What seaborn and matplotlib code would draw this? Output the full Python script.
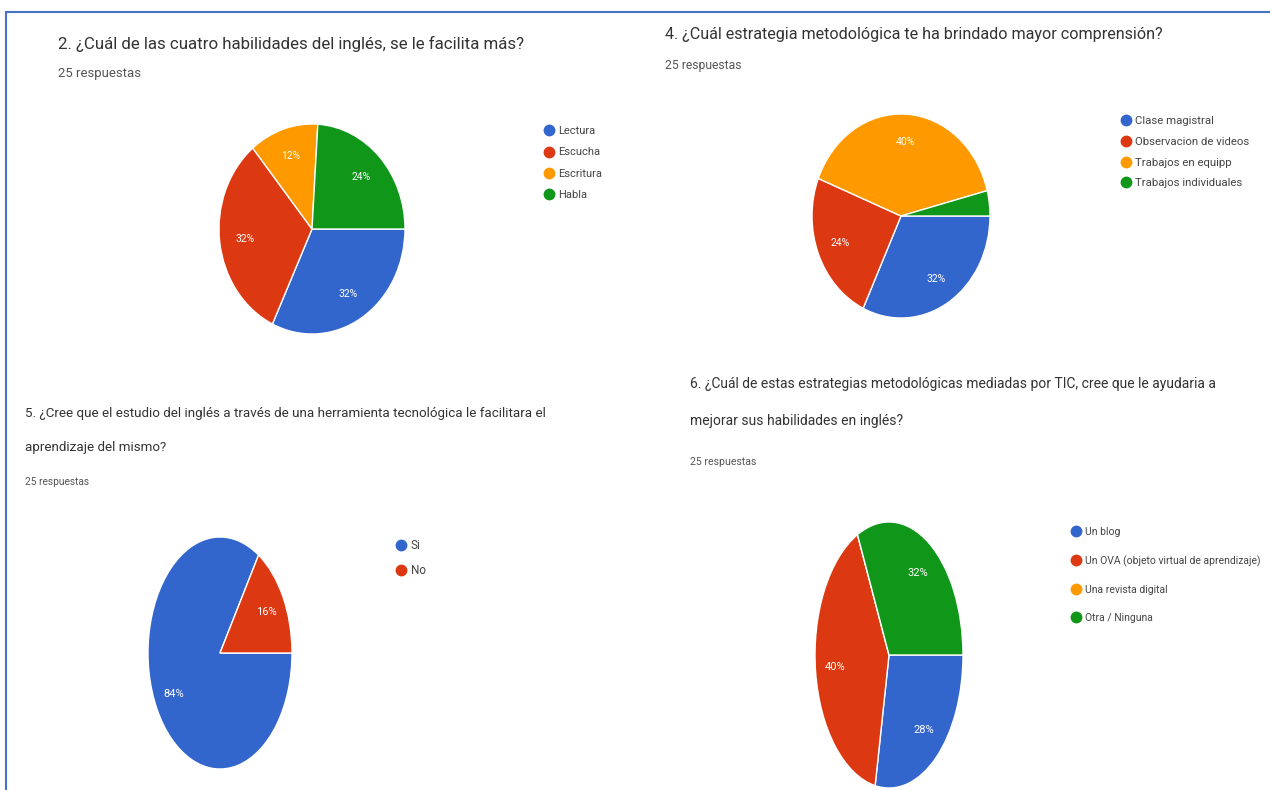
import matplotlib
matplotlib.use("Agg")
import matplotlib.pyplot as plt
from matplotlib import font_manager
from matplotlib.lines import Line2D
import seaborn as sns

sns.set_theme(style="white")

W, H = 1270, 790

# --- data ---
resp = "25 respuestas"

q2_title = ["2. ¿Cuál de las cuatro habilidades del inglés, se le facilita más?"]
q2_labels = ["Lectura", "Escucha", "Escritura", "Habla"]
q2_pct = [32, 32, 12, 24]

q4_title = ["4. ¿Cuál estrategia metodológica te ha brindado mayor comprensión?"]
q4_labels = ["Clase magistral", "Observacion de videos", "Trabajos en equipp",
             "Trabajos individuales"]
q4_pct = [32, 24, 40, 4]

q5_title = ["5. ¿Cree que el estudio del inglés a través de una herramienta tecnológica le facilitara el",
            "aprendizaje del mismo?"]
q5_labels = ["Si", "No"]
q5_pct = [84, 16]

q6_title = ["6. ¿Cuál de estas estrategias metodológicas mediadas por TIC, cree que le ayudaria a",
            "mejorar sus habilidades en inglés?"]
q6_labels = ["Un blog", "Un OVA (objeto virtual de aprendizaje)", "Una revista digital",
             "Otra / Ninguna"]
q6_pct = [28, 40, 0, 32]

palette = sns.color_palette(["#3366CC", "#DC3912", "#FF9900", "#109618"])


def pick(names):
    for n in names:
        try:
            font_manager.findfont(n, fallback_to_default=False)
            return n
        except Exception:
            pass
    return "DejaVu Sans"


regular = pick(["Roboto", "Liberation Sans"])
narrow = pick(["Liberation Sans Narrow", "Roboto"])

fig = plt.figure(figsize=(W / 100, H / 100), dpi=100)
fig.patch.set_facecolor("white")
fig.canvas.draw()
rend = fig.canvas.get_renderer()


def put(x, y, s, width=None, size=10, family=regular, color="#333333"):
    """text at pixel position, optionally scaled to a target width"""
    t = fig.text(x / W, 1 - y / H, s, ha="left", va="center", fontsize=size,
                 family=family, color=color)
    if width:
        w = t.get_window_extent(renderer=rend).width
        t.set_fontsize(size * width / w)
    return t.get_fontsize()


def header(lines, x, ys, width, resp_y, resp_w, family):
    fs = put(x, ys[0], lines[0], width, family=family)
    for line, y in zip(lines[1:], ys[1:]):
        put(x, y, line, size=fs, family=family)
    put(x, resp_y, resp, resp_w, family=family, color="#555555")


def pie(vals, cx, cy, rx, ry, pct_family, pct_size):
    ax = fig.add_axes([(cx - rx) / W, 1 - (cy + ry) / H, 2 * rx / W, 2 * ry / H])
    ax.pie(vals, colors=palette[:len(vals)], startangle=0, counterclock=False,
           autopct=lambda p: f"{p:.0f}%" if p >= 5 else "", pctdistance=0.73,
           wedgeprops=dict(edgecolor="white", linewidth=1),
           textprops=dict(color="white", fontsize=pct_size, family=pct_family))
    ax.set_aspect("auto")
    ax.set_xlim(-1, 1)
    ax.set_ylim(-1, 1)
    return ax


def legend(labels, x, y, size, family, gap):
    handles = [Line2D([], [], ls="none", marker="o", ms=7.5, mfc=c, mec=c)
               for c in palette[:len(labels)]]
    fig.legend(handles, labels, loc="upper left", bbox_to_anchor=(x / W, 1 - y / H),
               frameon=False, prop={"family": family, "size": size},
               labelspacing=gap, handletextpad=0.35, handlelength=1.0,
               borderpad=0, borderaxespad=0, labelcolor="#444444")


# question 2
header(q2_title, 58, [44], 470, 74, 83, regular)
pie(q2_pct, 312, 229, 93, 105, regular, 7.5)
legend(q2_labels, 543, 126, 8, regular, 1.03)

# question 4
header(q4_title, 665, [34], 497, 66, 77, regular)
pie(q4_pct, 901, 216, 89, 102, regular, 7.5)
legend(q4_labels, 1120, 116, 8.2, regular, 0.95)

# question 5
header(q5_title, 25, [413, 448], 520, 482, 64, narrow)
pie(q5_pct, 220, 653, 72, 116, narrow, 8)
legend(q5_labels, 395, 539, 8.5, narrow, 1.0)

# question 6
header(q6_title, 690, [384, 421], 525, 462, 66, narrow)
pie(q6_pct, 889, 655, 74, 133, narrow, 8)
legend(q6_labels, 1071, 527, 7.5, narrow, 1.74)

# thin blue frame of the screenshot collage
blue = "#4472C4"
fig.add_artist(Line2D([6 / W, 1], [1 - 12 / H, 1 - 12 / H], color=blue, lw=1.5,
                      transform=fig.transFigure))
fig.add_artist(Line2D([6 / W, 6 / W], [0, 1 - 12 / H], color=blue, lw=1.5,
                      transform=fig.transFigure))

fig.savefig("out.png", dpi=100, facecolor="white")
